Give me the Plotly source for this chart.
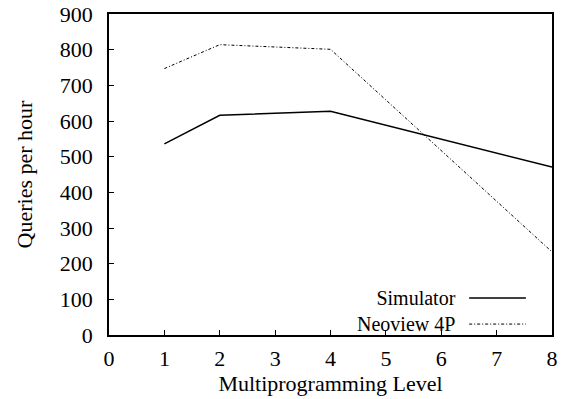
import plotly.graph_objects as go

x_levels = [1, 2, 4, 8]
simulator = [536, 616, 627, 471]
neoview = [747, 814, 801, 233]
x_ticks = [0, 1, 2, 3, 4, 5, 6, 7, 8]
y_ticks = [0, 100, 200, 300, 400, 500, 600, 700, 800, 900]
series_names = ["Simulator", "Neoview 4P"]

font = dict(family="Liberation Serif, Times New Roman, serif", size=22, color="black")
legend_font = dict(family="Liberation Serif, Times New Roman, serif", size=20, color="black")

fig = go.Figure()
fig.add_trace(go.Scatter(x=x_levels, y=simulator, mode="lines", name=series_names[0],
                         line=dict(color="black", width=1.5), showlegend=False))
fig.add_trace(go.Scatter(x=x_levels, y=neoview, mode="lines", name=series_names[1],
                         line=dict(color="black", width=1, dash="3px,2px,1px,2px"),
                         showlegend=False))

axis_common = dict(showgrid=False, zeroline=False, showline=True, linecolor="black",
                   linewidth=1.5, mirror=True, ticks="inside", ticklen=5,
                   tickcolor="black", tickfont=font, automargin=False)
fig.update_xaxes(range=[0, 8], tickvals=x_ticks, ticktext=[str(v) for v in x_ticks],
                 ticklabelstandoff=3,
                 title=dict(text="Multiprogramming Level", font=font, standoff=4),
                 **axis_common)
fig.update_yaxes(range=[0, 900], tickvals=y_ticks, ticktext=[str(v) for v in y_ticks],
                 ticklabelstandoff=10,
                 title=dict(text="Queries per hour", font=font, standoff=21),
                 **axis_common)

# legend (text to the left of the sample line, gnuplot style)
fig.add_annotation(x=0.788, y=0.0745, xref="paper", yref="paper",
                   text="<br>".join(series_names), align="right",
                   showarrow=False, xanchor="right", yanchor="middle", font=legend_font)
legend_lines = [(0.115, dict(color="black", width=1.5)),
                (0.034, dict(color="black", width=1, dash="3px,2px,1px,2px"))]
for yp, ln in legend_lines:
    fig.add_shape(type="line", xref="paper", yref="paper", x0=0.813, x1=0.941,
                  y0=yp, y1=yp, line=ln)

fig.update_layout(width=566, height=399, margin=dict(l=109, r=14, t=14, b=64),
                  plot_bgcolor="white", paper_bgcolor="white", font=font)
fig.write_html("out.html")
